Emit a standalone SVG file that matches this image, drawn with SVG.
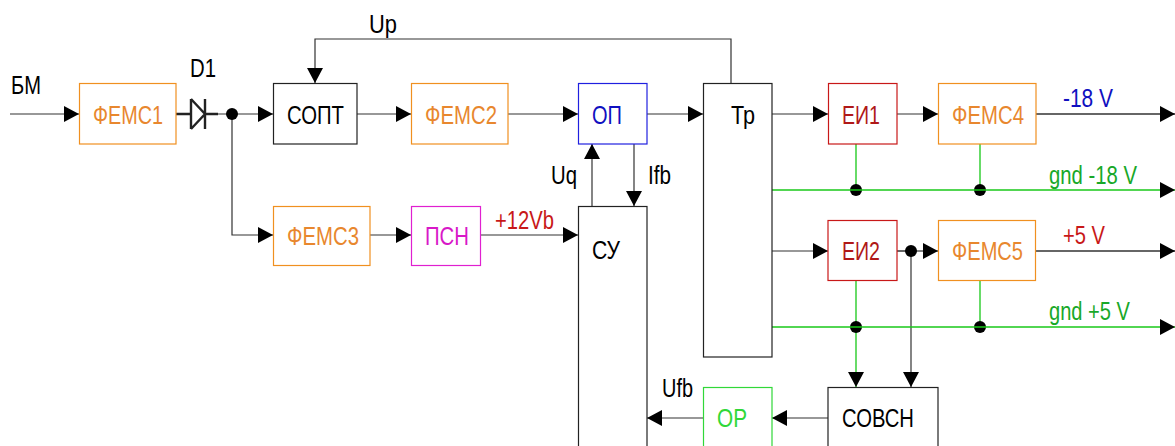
<svg xmlns="http://www.w3.org/2000/svg" width="1175" height="446" viewBox="0 0 1175 446">
<style>
text{font-family:"Liberation Sans",Arial,sans-serif;font-size:26px;fill:#000}
.o{fill:#e8872e}.r{fill:#b01818}.g{fill:#18a828}.b{fill:#1010c0}.m{fill:#d818c8}.lime{fill:#30d838}.rr{fill:#c81818}
rect{fill:#fff;stroke-width:1.2}
.c{fill:none;stroke:#333;stroke-width:1.2}
.t{fill:none;stroke:#666;stroke-width:2}
.gl{fill:none;stroke:#18c818;stroke-width:1.3}
.d{fill:#000;stroke:none}
</style>
<defs>
<marker id="a" markerUnits="userSpaceOnUse" markerWidth="15" markerHeight="16" refX="15" refY="8" orient="auto"><path d="M0 0L15 8L0 16Z" fill="#000"/></marker>
</defs>
<g id="connectors">
<path class="c" marker-end="url(#a)" d="M10 114H79"/>
<path class="c" d="M176 114H190M204 114H232"/>
<path class="c" marker-end="url(#a)" d="M232 114H273"/>
<path class="c" marker-end="url(#a)" d="M232 114V235H273"/>
<path class="c" marker-end="url(#a)" d="M357 114H411"/>
<path class="c" marker-end="url(#a)" d="M508 114H578"/>
<path class="c" marker-end="url(#a)" d="M647 114H703"/>
<path class="c" marker-end="url(#a)" d="M772 114H828"/>
<path class="c" marker-end="url(#a)" d="M897 114H938"/>
<path class="t" marker-end="url(#a)" d="M1036 114H1175"/>
<path class="c" marker-end="url(#a)" d="M731 83V39H315V83"/>
<path class="c" marker-end="url(#a)" d="M370 235H411"/>
<path class="c" marker-end="url(#a)" d="M481 235H578"/>
<path class="c" marker-end="url(#a)" d="M592 206V144"/>
<path class="c" marker-end="url(#a)" d="M634 144V206"/>
<path class="gl" d="M856 144V190M980 144V190"/>
<path class="c" marker-end="url(#a)" d="M772 251H828"/>
<path class="t" d="M897 251H911"/>
<path class="c" marker-end="url(#a)" d="M911 251H938"/>
<path class="t" marker-end="url(#a)" d="M1035 251H1175"/>
<path class="gl" d="M980 281V327"/>
<path class="gl" marker-end="url(#a)" d="M856 281V387"/>
<path class="c" marker-end="url(#a)" d="M911 251V387"/>
<path class="c" marker-end="url(#a)" d="M828 418H772"/>
<path class="c" marker-end="url(#a)" d="M703 418H647"/>
<circle class="d" cx="232" cy="114" r="6"/>
<circle class="d" cx="856" cy="190" r="6"/>
<circle class="d" cx="980" cy="190" r="6"/>
<circle class="d" cx="911" cy="251" r="6"/>
<circle class="d" cx="856" cy="327" r="6"/>
<circle class="d" cx="980" cy="327" r="6"/>
<path class="gl" marker-end="url(#a)" d="M772 190H1175"/>
<path class="gl" marker-end="url(#a)" d="M772 327H1175"/>
</g>
<g id="D1">
<path d="M176 114H191M205 114H218M191 99V129M205 99V129M191 99L205 114L191 129" fill="none" stroke="#222" stroke-width="2.4"/>
<text x="190" y="77" textLength="26" lengthAdjust="spacingAndGlyphs">D1</text>
</g>
<g id="BM"><text x="11" y="94" textLength="30" lengthAdjust="spacingAndGlyphs">БМ</text></g>
<g id="Up"><text x="369" y="33" textLength="28" lengthAdjust="spacingAndGlyphs">Up</text></g>
<g id="fems1"><rect x="79.500" y="83.500" width="96.500" height="60.500" stroke="#f09020"/><text class="o" x="93" y="124" textLength="70" lengthAdjust="spacingAndGlyphs">ФЕМС1</text></g>
<g id="sopt"><rect x="273.500" y="83.500" width="83.500" height="60.500" stroke="#222"/><text x="287" y="124" textLength="57" lengthAdjust="spacingAndGlyphs">СОПТ</text></g>
<g id="fems2"><rect x="411.500" y="83.500" width="96.500" height="60.500" stroke="#f09020"/><text class="o" x="425" y="124" textLength="72" lengthAdjust="spacingAndGlyphs">ФЕМС2</text></g>
<g id="op"><rect x="578.500" y="83.500" width="68.500" height="60.500" stroke="#2020e0"/><text class="b" x="592" y="124" textLength="30" lengthAdjust="spacingAndGlyphs">ОП</text></g>
<g id="tr"><rect x="703.500" y="83.500" width="68.500" height="273.500" stroke="#222"/><text x="731" y="124" textLength="24" lengthAdjust="spacingAndGlyphs">Тр</text></g>
<g id="ei1"><rect x="828.500" y="83.500" width="68.500" height="60.500" stroke="#c81818"/><text class="r" x="842" y="124" textLength="38" lengthAdjust="spacingAndGlyphs">ЕИ1</text></g>
<g id="fems4"><rect x="938.500" y="83.500" width="97.500" height="60.500" stroke="#f09020"/><text class="o" x="952" y="124" textLength="72" lengthAdjust="spacingAndGlyphs">ФЕМС4</text></g>
<g id="fems3"><rect x="273.500" y="206.500" width="96.500" height="59" stroke="#f09020"/><text class="o" x="287" y="245" textLength="72" lengthAdjust="spacingAndGlyphs">ФЕМС3</text></g>
<g id="psn"><rect x="411.500" y="206.500" width="69" height="59" stroke="#e020d0"/><text class="m" x="425" y="245" textLength="44" lengthAdjust="spacingAndGlyphs">ПСН</text></g>
<g id="su"><rect x="578.500" y="206.500" width="68.500" height="245" stroke="#222"/><text x="592" y="259" textLength="28" lengthAdjust="spacingAndGlyphs">СУ</text></g>
<g id="ei2"><rect x="828" y="220.500" width="69" height="60" stroke="#c81818"/><text class="r" x="842" y="260" textLength="38" lengthAdjust="spacingAndGlyphs">ЕИ2</text></g>
<g id="fems5"><rect x="938.500" y="220.500" width="97" height="60" stroke="#f09020"/><text class="o" x="952" y="260" textLength="71" lengthAdjust="spacingAndGlyphs">ФЕМС5</text></g>
<g id="or"><rect x="703.500" y="387.500" width="68.500" height="64" stroke="#30d838"/><text class="lime" x="717" y="427" textLength="30" lengthAdjust="spacingAndGlyphs">ОР</text></g>
<g id="sovsn"><rect x="828" y="387.500" width="110" height="64" stroke="#222"/><text x="842" y="427" textLength="72" lengthAdjust="spacingAndGlyphs">СОВСН</text></g>
<g id="labels">
<text class="rr" x="495" y="229" textLength="59" lengthAdjust="spacingAndGlyphs">+12Vb</text>
<text x="551" y="184" textLength="26" lengthAdjust="spacingAndGlyphs">Uq</text>
<text x="648" y="184" textLength="23" lengthAdjust="spacingAndGlyphs">Ifb</text>
<text x="662" y="397" textLength="31" lengthAdjust="spacingAndGlyphs">Ufb</text>
<text class="b" x="1063" y="107" textLength="50" lengthAdjust="spacingAndGlyphs">-18 V</text>
<text class="g" x="1049" y="184" textLength="88" lengthAdjust="spacingAndGlyphs">gnd -18 V</text>
<text class="rr" x="1063" y="244" textLength="42" lengthAdjust="spacingAndGlyphs">+5 V</text>
<text class="g" x="1049" y="320" textLength="81" lengthAdjust="spacingAndGlyphs">gnd +5 V</text>
</g>
</svg>
